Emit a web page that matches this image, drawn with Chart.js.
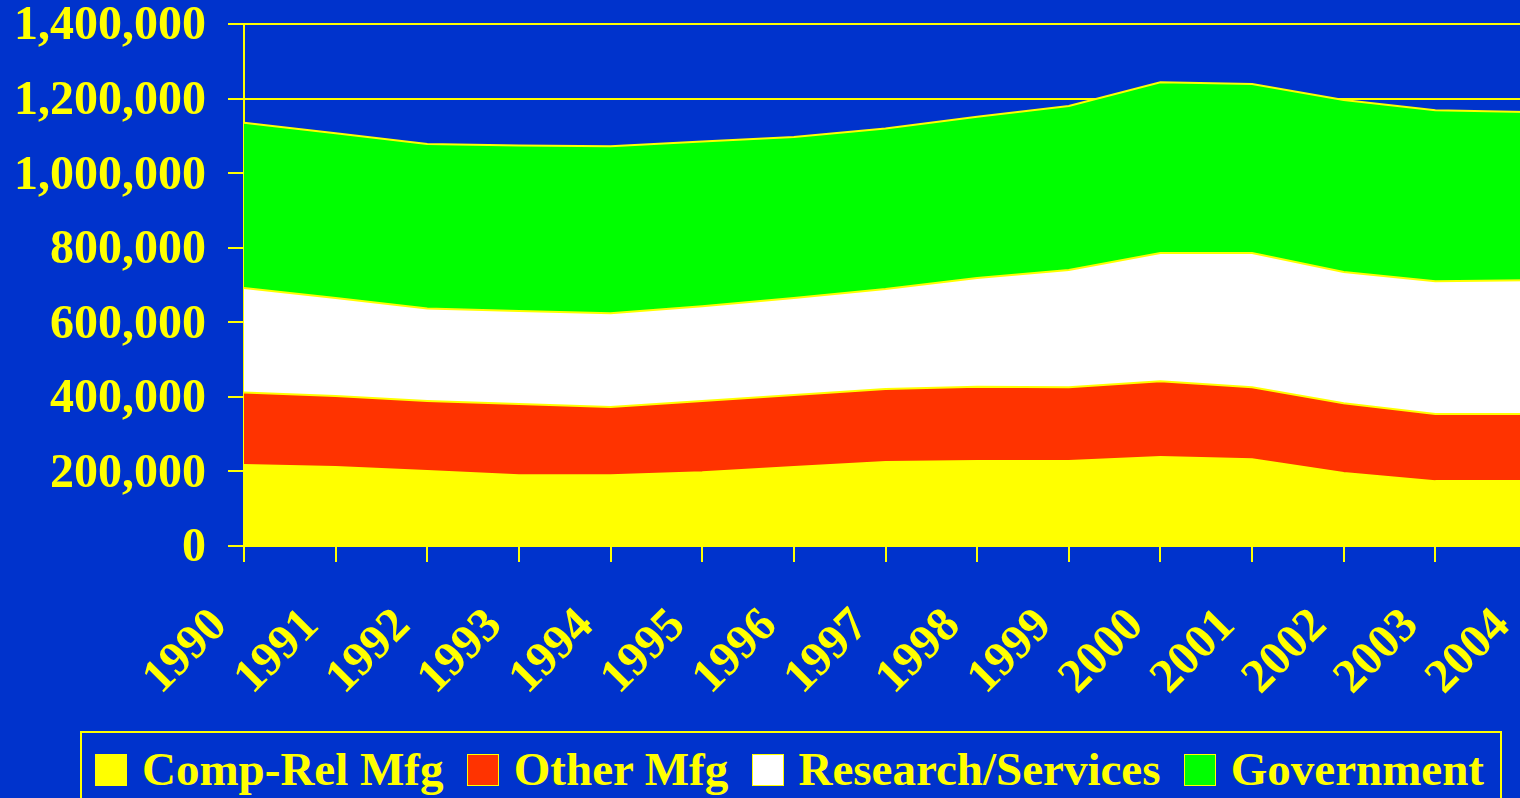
<!DOCTYPE html>
<html>
<head>
<meta charset="utf-8">
<script src="https://cdn.jsdelivr.net/npm/chart.js@4/dist/chart.umd.min.js"></script>
<style>
html, body { margin:0; padding:0; width:1520px; height:798px; overflow:hidden; background:#0033cc; }
#wrap { position:absolute; left:0; top:0; width:1545px; height:725px; }
#legend {
  position:absolute; left:80px; top:731px; width:1389px; height:80px;
  border:2px solid #ffff00; padding:0 16px 0 13px;
  display:flex; justify-content:space-between; align-items:flex-start;
  font-family:"Liberation Serif","Times New Roman",serif; font-weight:bold; font-size:47px; color:#ffff00;
}
#legend .item { display:flex; align-items:flex-start; margin-top:9px; white-space:nowrap; }
#legend .sw { width:30px; height:30px; border:1px solid #ffff00; margin:12px 15px 0 0; }
</style>
</head>
<body>
<div id="wrap"><canvas id="chart"></canvas></div>
<div id="legend"></div>
<script>
const years = ["1990","1991","1992","1993","1994","1995","1996","1997","1998","1999","2000","2001","2002","2003","2004"]

// employment by sector
const compRelMfg = [217000,212000,201000,190000,190000,198000,212000,225000,228000,228000,239000,233000,196000,174000,174000]
const otherMfg = [195000,190000,188000,191000,183000,191000,193000,196000,199000,198000,203000,193000,187000,180000,180000]
const researchServices = [280000,263000,248000,249000,251000,254000,260000,268000,292000,314000,344000,360000,352000,356000,359000]
const government = [443000,442000,441000,444000,448000,442000,432000,431000,432000,440000,458000,453000,461000,459000,451000]

const seriesNames = ["Comp-Rel Mfg","Other Mfg","Research/Services","Government"]
const seriesColors = ["#ffff00","#ff3300","#ffffff","#00ff00"]

const yTicks = [0,200000,400000,600000,800000,1000000,1200000,1400000]

const yellow = "#ffff00"
const font = "'Liberation Serif','Times New Roman',serif"

const values = [compRelMfg, otherMfg, researchServices, government]

const datasets = values.map((v,i) => ({
  label: seriesNames[i],
  data: v,
  backgroundColor: seriesColors[i],
  borderColor: yellow,
  borderWidth: 2,
  pointRadius: 0,
  tension: 0,
  fill: i == 0 ? "origin" : "-1"
}))

new Chart(document.getElementById("chart"), {
  type: "line",
  data: { labels: years, datasets: datasets },
  options: {
    responsive: true,
    maintainAspectRatio: false,
    animation: false,
    layout: { padding: { top: 24, right: 18, left: 0, bottom: 0 } },
    plugins: { legend: { display: false }, tooltip: { enabled: false } },
    scales: {
      x: {
        afterFit: s => { s.height = 179; s.paddingLeft = 0; s.paddingRight = 0 },
        grid: { display: true, drawOnChartArea: false, color: yellow, lineWidth: 2, tickLength: 16 },
        border: { color: yellow, width: 2 },
        ticks: {
          color: yellow, font: { family: font, size: 48, weight: "bold" },
          minRotation: 45, maxRotation: 45, autoSkip: false,
          labelOffset: -24, padding: 36
        }
      },
      y: {
        stacked: true,
        min: 0, max: 1400000,
        afterFit: s => { s.width = 244; s.paddingTop = 0; s.paddingBottom = 0 },
        afterBuildTicks: s => { s.ticks = yTicks.map(v => ({ value: v })) },
        grid: { color: yellow, lineWidth: 2, tickLength: 16 },
        border: { color: yellow, width: 2 },
        ticks: {
          color: yellow, font: { family: font, size: 48, weight: "bold" },
          padding: 22, labelOffset: 3,
          callback: v => v.toLocaleString("en-US")
        }
      }
    }
  }
})

const legend = document.getElementById("legend")
seriesNames.forEach((n,i) => {
  const item = document.createElement("div")
  item.className = "item"
  item.innerHTML = '<div class="sw" style="background:' + seriesColors[i] + '"></div><span>' + n + '</span>'
  legend.appendChild(item)
})
</script>
</body>
</html>
